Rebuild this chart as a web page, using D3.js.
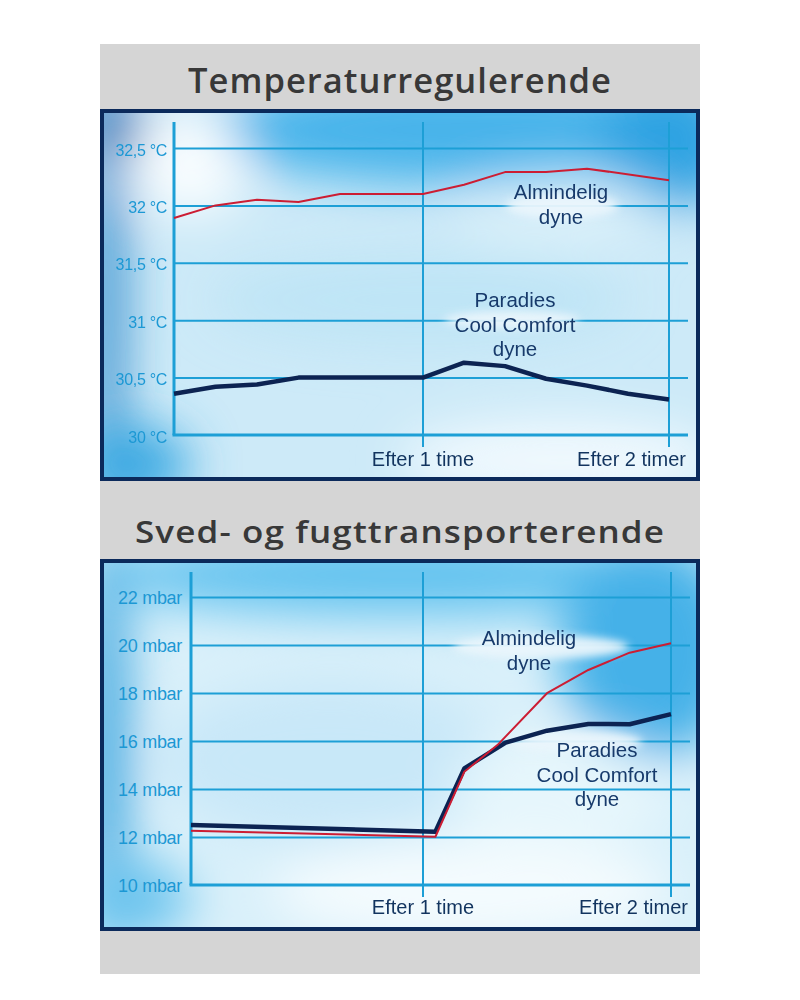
<!DOCTYPE html>
<html>
<head>
<meta charset="utf-8">
<script src="https://cdn.jsdelivr.net/npm/d3@7"></script>
<style>
  body { margin: 0; background: #fff; }
  svg { display: block; }
  .title { font-variant-ligatures: none; font-feature-settings: "liga" 0; }
</style>
</head>
<body>
<svg id="chart"></svg>
<script>
const width = 800;
const height = 1000;

// Top chart: temperature under the duvet (°C), time in minutes
const tempTicks = [30, 30.5, 31, 31.5, 32, 32.5];
const tempTickLabels = ["30 °C", "30,5 °C", "31 °C", "31,5 °C", "32 °C", "32,5 °C"];
const tempNormalMin = [0, 10, 20, 30, 40, 60, 70, 80, 90, 100, 120];
const tempNormal = [31.89, 32.0, 32.05, 32.03, 32.1, 32.1, 32.18, 32.29, 32.29, 32.32, 32.22];
const tempCoolMin = [0, 10, 20, 30, 60, 70, 80, 90, 100, 110, 120];
const tempCool = [30.36, 30.42, 30.44, 30.5, 30.5, 30.63, 30.6, 30.49, 30.43, 30.36, 30.31];

// Bottom chart: vapour pressure (mbar), time in minutes
const humTicks = [10, 12, 14, 16, 18, 20, 22];
const humTickLabels = ["10 mbar", "12 mbar", "14 mbar", "16 mbar", "18 mbar", "20 mbar", "22 mbar"];
const humNormalMin = [0, 63, 70, 78, 90, 100, 110, 120];
const humNormal = [12.26, 12.01, 14.72, 15.83, 17.99, 18.96, 19.68, 20.07];
const humCoolMin = [0, 63, 70, 80, 90, 100, 110, 120];
const humCool = [12.5, 12.22, 14.86, 15.93, 16.43, 16.71, 16.7, 17.12];

const timeTicks = [60, 120];
const timeLabels = ["Efter 1 time", "Efter 2 timer"];
const normalLabel = ["Almindelig", "dyne"];
const coolLabel = ["Paradies", "Cool Comfort", "dyne"];
const titles = ["Temperaturregulerende", "Sved- og fugttransporterende"];

const gridColor = "#1d9fd6";
const navy = "#0c2352";
const red = "#cc1d33";

var svg = d3.select("#chart")
    .attr("width", width)
    .attr("height", height);

var defs = svg.append("defs");
defs.append("filter").attr("id", "soft")
    .attr("x", "-60%").attr("y", "-60%").attr("width", "220%").attr("height", "220%")
    .append("feGaussianBlur").attr("stdDeviation", 24);
defs.append("filter").attr("id", "cloud")
    .attr("x", "-40%").attr("y", "-80%").attr("width", "180%").attr("height", "260%")
    .append("feGaussianBlur").attr("stdDeviation", 4);

// grey card
svg.append("rect")
    .attr("x", 100).attr("y", 44)
    .attr("width", 600).attr("height", 930)
    .attr("fill", "#d5d5d5");

// titles
svg.append("text")
    .attr("class", "title")
    .attr("x", 188).attr("y", 93)
    .attr("textLength", 424).attr("lengthAdjust", "spacingAndGlyphs")
    .style("font", "600 34px 'Open Sans', Lato, sans-serif")
    .style("letter-spacing", "1px")
    .attr("fill", "#383838")
    .text(titles[0]);
svg.append("text")
    .attr("class", "title")
    .attr("x", 135).attr("y", 543)
    .attr("textLength", 530).attr("lengthAdjust", "spacingAndGlyphs")
    .style("font", "600 31px 'Open Sans', Lato, sans-serif")
    .style("letter-spacing", "1px")
    .attr("fill", "#383838")
    .text(titles[1]);

const panels = [
  {
    id: "temp", top: 109, bottom: 481,
    xRange: [174, 423, 669], gridRight: 688, yTop: 122,
    yDomain: [30, 32.5], yRange: [435, 148],
    ticks: tempTicks, tickLabels: tempTickLabels, tickFont: 16, labelPad: 7, labelDy: 7,
    xLabelY: 466,
    normal: { t: tempNormalMin, v: tempNormal },
    cool: { t: tempCoolMin, v: tempCool },
    normalPos: [561, 199], coolPos: [515, 307],
    clouds: [[562, 206, 56, 13], [512, 320, 68, 9]],
    base: "#cdeaf8",
    glows: [
      [106, 300, 18, 240, "#2a88c9", 0.95], [112, 125, 30, 30, "#1e72b6", 1],
      [470, 130, 260, 55, "#46b3ea", 1], [670, 140, 70, 70, "#2ea3e2", 1],
      [130, 465, 60, 40, "#3aa9e2", 1],
      [190, 165, 58, 52, "#ffffff", 0.85], [560, 210, 110, 40, "#e4f4fc", 0.55],
      [560, 460, 160, 40, "#f4fbfe", 0.9], [420, 300, 210, 45, "#b8e2f5", 0.7]
    ]
  },
  {
    id: "hum", top: 559, bottom: 931,
    xRange: [191, 423, 671], gridRight: 690, yTop: 572,
    yDomain: [10, 22], yRange: [885, 597],
    ticks: humTicks, tickLabels: humTickLabels, tickFont: 18, labelPad: 9, labelDy: 6,
    xLabelY: 914,
    normal: { t: humNormalMin, v: humNormal },
    cool: { t: humCoolMin, v: humCool },
    normalPos: [529, 645], coolPos: [597, 757],
    clouds: [[541, 647, 88, 12], [576, 742, 66, 11]],
    base: "#d9f0fa",
    glows: [
      [106, 740, 22, 220, "#3ea6df", 1], [400, 575, 300, 40, "#62c2ef", 1],
      [650, 650, 90, 110, "#45b1e8", 1], [130, 900, 60, 40, "#6cc4ee", 1],
      [330, 760, 170, 80, "#c4e6f7", 0.8], [470, 890, 200, 50, "#f6fcfe", 0.95],
      [560, 790, 110, 60, "#eaf7fd", 0.8]
    ]
  }
];

panels.forEach(drawPanel);

function drawPanel(cfg) {
  const g = svg.append("g");
  const clipId = "clip-" + cfg.id;
  defs.append("clipPath").attr("id", clipId)
    .append("rect")
      .attr("x", 104).attr("y", cfg.top + 4)
      .attr("width", 592).attr("height", cfg.bottom - cfg.top - 8);

  // sky background
  const bg = g.append("g").attr("clip-path", `url(#${clipId})`);
  bg.append("rect")
      .attr("x", 104).attr("y", cfg.top + 4)
      .attr("width", 592).attr("height", cfg.bottom - cfg.top - 8)
      .attr("fill", cfg.base);
  bg.append("g").attr("filter", "url(#soft)")
    .selectAll("ellipse")
    .data(cfg.glows)
    .join("ellipse")
      .attr("cx", d => d[0]).attr("cy", d => d[1])
      .attr("rx", d => d[2]).attr("ry", d => d[3])
      .attr("fill", d => d[4]).attr("opacity", d => d[5]);

  const x = d3.scaleLinear().domain([0, 60, 120]).range(cfg.xRange);
  const y = d3.scaleLinear().domain(cfg.yDomain).range(cfg.yRange);
  const x0 = x(0);
  const axisY = y(cfg.yDomain[0]);

  // horizontal grid lines
  g.append("g")
      .attr("transform", `translate(${x0},0)`)
      .call(d3.axisLeft(y).tickValues(cfg.ticks.slice(1))
        .tickSize(-(cfg.gridRight - x0)).tickFormat(""))
      .call(a => a.select(".domain").remove())
      .selectAll("line")
        .attr("stroke", gridColor).attr("stroke-width", 2);

  // vertical hour lines, running a little below the axis
  g.append("g").selectAll("line")
    .data(timeTicks)
    .join("line")
      .attr("x1", d => x(d)).attr("x2", d => x(d))
      .attr("y1", cfg.yTop).attr("y2", axisY + 12)
      .attr("stroke", gridColor).attr("stroke-width", 2);

  // axes
  g.append("line")
      .attr("x1", x0).attr("x2", x0)
      .attr("y1", cfg.yTop).attr("y2", axisY)
      .attr("stroke", gridColor).attr("stroke-width", 3);
  g.append("line")
      .attr("x1", x0 - 1.5).attr("x2", cfg.gridRight)
      .attr("y1", axisY).attr("y2", axisY)
      .attr("stroke", gridColor).attr("stroke-width", 3);

  // soft clouds behind the labels
  g.append("g").attr("filter", "url(#cloud)")
    .selectAll("ellipse")
    .data(cfg.clouds)
    .join("ellipse")
      .attr("cx", d => d[0]).attr("cy", d => d[1])
      .attr("rx", d => d[2]).attr("ry", d => d[3])
      .attr("fill", "#eaf6fc").attr("opacity", 0.95);

  // y tick labels
  g.append("g")
      .attr("transform", `translate(${x0},0)`)
      .call(d3.axisLeft(y).tickValues(cfg.ticks).tickSize(0)
        .tickPadding(cfg.labelPad).tickFormat((d, i) => cfg.tickLabels[i]))
      .call(a => a.select(".domain").remove())
      .selectAll("text")
        .attr("dy", null)
        .attr("y", cfg.labelDy)
        .attr("fill", "#1c98d4")
        .style("font-family", "'Liberation Sans', Arial, sans-serif")
        .style("font-size", cfg.tickFont + "px")
        .style("letter-spacing", "-0.3px");

  // x labels
  g.append("g").selectAll("text")
    .data(timeTicks)
    .join("text")
      .attr("x", (d, i) => i === timeTicks.length - 1 ? cfg.gridRight - 2 : x(d))
      .attr("y", cfg.xLabelY)
      .attr("text-anchor", (d, i) => i === timeTicks.length - 1 ? "end" : "middle")
      .attr("fill", "#12345f")
      .style("font", "20px 'Liberation Sans', Arial, sans-serif")
      .text((d, i) => timeLabels[i]);

  // data lines
  const line = d3.line().x(d => x(d[0])).y(d => y(d[1]));
  const normalPts = cfg.normal.t.map((t, i) => [t, cfg.normal.v[i]]);
  const coolPts = cfg.cool.t.map((t, i) => [t, cfg.cool.v[i]]);

  g.append("path")
      .attr("d", line(coolPts))
      .attr("fill", "none").attr("stroke", navy)
      .attr("stroke-width", 4.5).attr("stroke-linejoin", "round");
  g.append("path")
      .attr("d", line(normalPts))
      .attr("fill", "none").attr("stroke", red)
      .attr("stroke-width", 2).attr("stroke-linejoin", "round");

  // series annotations
  [[normalLabel, cfg.normalPos], [coolLabel, cfg.coolPos]].forEach(([lines, pos]) => {
    g.append("g").selectAll("text")
      .data(lines)
      .join("text")
        .attr("x", pos[0])
        .attr("y", (d, i) => pos[1] + i * 24.5)
        .attr("text-anchor", "middle")
        .attr("fill", "#173a6b")
        .style("font", "20.5px 'Liberation Sans', Arial, sans-serif")
        .text(d => d);
  });

  // navy frame
  g.append("rect")
      .attr("x", 102).attr("y", cfg.top + 2)
      .attr("width", 596).attr("height", cfg.bottom - cfg.top - 4)
      .attr("fill", "none").attr("stroke", "#0b2a5b").attr("stroke-width", 4);
}
</script>
</body>
</html>
